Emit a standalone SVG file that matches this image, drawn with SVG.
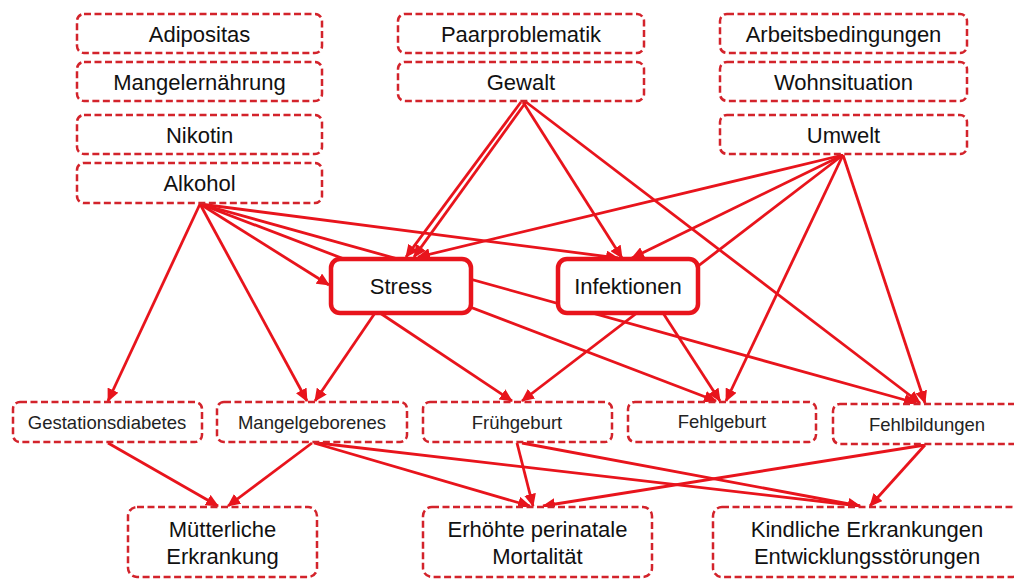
<svg xmlns="http://www.w3.org/2000/svg" width="1014" height="579" viewBox="0 0 1014 579">
<style>
.bx{fill:#fff;stroke:#d3232b;stroke-width:2.5;stroke-dasharray:7 3.5}
.hb{fill:#fff;stroke:#e8141c;stroke-width:4.5}
.t{font-family:"Liberation Sans",Arial,sans-serif;font-size:22px;fill:#111;text-anchor:middle}
.s{font-family:"Liberation Sans",Arial,sans-serif;font-size:18.5px;fill:#222;text-anchor:middle}
.c line{stroke:#e8141c;stroke-width:2.8;fill:none}
.c line.a{marker-end:url(#ah)}
</style>
<defs>
<marker id="ah" viewBox="0 0 13 12" refX="12" refY="6" markerWidth="13" markerHeight="12" markerUnits="userSpaceOnUse" orient="auto">
<path d="M0,0 L13,6 L0,12 z" fill="#e8141c"/>
</marker>
</defs>
<rect width="1014" height="579" fill="#fff"/>
<g id="connectors" class="c">
<line class="a" x1="200" y1="204" x2="108" y2="401"/>
<line class="a" x1="200" y1="204" x2="307" y2="401"/>
<line class="a" x1="200" y1="204" x2="329" y2="285"/>
<line class="a" x1="200" y1="204" x2="618" y2="258"/>
<line class="a" x1="200" y1="204" x2="716" y2="401"/>
<line class="a" x1="200" y1="204" x2="916" y2="403"/>
<line class="a" x1="521" y1="102" x2="406" y2="257"/>
<line class="a" x1="526" y1="102" x2="414" y2="257"/>
<line class="a" x1="523" y1="102" x2="622" y2="258"/>
<line class="a" x1="526" y1="102" x2="920" y2="403"/>
<line class="a" x1="843" y1="155" x2="418" y2="257"/>
<line class="a" x1="843" y1="155" x2="632" y2="258"/>
<line class="a" x1="843" y1="155" x2="522" y2="401"/>
<line class="a" x1="843" y1="155" x2="726" y2="401"/>
<line class="a" x1="843" y1="155" x2="925" y2="403"/>
<line class="a" x1="375" y1="313" x2="315" y2="401"/>
<line class="a" x1="380" y1="313" x2="512" y2="401"/>
<line class="a" x1="663" y1="313" x2="720" y2="401"/>
<line class="a" x1="108" y1="443" x2="218" y2="506"/>
<line class="a" x1="312" y1="443" x2="228" y2="506"/>
<line class="a" x1="314" y1="443" x2="530" y2="506"/>
<line class="a" x1="318" y1="443" x2="860" y2="506"/>
<line class="a" x1="517" y1="443" x2="533" y2="506"/>
<line class="a" x1="522" y1="443" x2="860" y2="506"/>
<line class="a" x1="925" y1="445" x2="543" y2="506"/>
<line class="a" x1="925" y1="445" x2="870" y2="506"/>
</g>
<g id="n-adipositas"><rect class="bx" x="77" y="14" width="245" height="39" rx="7"/><text class="t" x="199.5" y="41.5">Adipositas</text></g>
<g id="n-mangelernaehrung"><rect class="bx" x="77" y="62" width="245" height="39" rx="7"/><text class="t" x="199.5" y="89.5">Mangelernährung</text></g>
<g id="n-nikotin"><rect class="bx" x="77" y="115" width="245" height="39" rx="7"/><text class="t" x="199.5" y="142.5">Nikotin</text></g>
<g id="n-alkohol"><rect class="bx" x="77" y="163" width="245" height="40" rx="7"/><text class="t" x="199.5" y="191">Alkohol</text></g>
<g id="n-paarproblematik"><rect class="bx" x="398" y="14" width="246" height="39" rx="7"/><text class="t" x="521" y="41.5">Paarproblematik</text></g>
<g id="n-gewalt"><rect class="bx" x="398" y="62" width="246" height="39" rx="7"/><text class="t" x="521" y="89.5">Gewalt</text></g>
<g id="n-arbeitsbedingungen"><rect class="bx" x="720" y="14" width="247" height="39" rx="7"/><text class="t" x="843.5" y="41.5">Arbeitsbedingungen</text></g>
<g id="n-wohnsituation"><rect class="bx" x="720" y="62" width="247" height="39" rx="7"/><text class="t" x="843.5" y="89.5">Wohnsituation</text></g>
<g id="n-umwelt"><rect class="bx" x="720" y="115" width="247" height="39" rx="7"/><text class="t" x="843.5" y="142.5">Umwelt</text></g>
<g id="n-stress"><rect class="hb" x="331" y="259" width="140" height="54" rx="9"/><text class="t" x="401" y="294">Stress</text></g>
<g id="n-infektionen"><rect class="hb" x="558" y="259" width="140" height="54" rx="9"/><text class="t" x="628" y="294">Infektionen</text></g>
<g id="n-gestationsdiabetes"><rect class="bx" x="13" y="402" width="189" height="40" rx="7"/><text class="s" x="107" y="429">Gestationsdiabetes</text></g>
<g id="n-mangelgeborenes"><rect class="bx" x="217" y="402" width="190" height="40" rx="7"/><text class="s" x="312" y="429">Mangelgeborenes</text></g>
<g id="n-fruehgeburt"><rect class="bx" x="423" y="402" width="189" height="40" rx="7"/><text class="s" x="517" y="429">Frühgeburt</text></g>
<g id="n-fehlgeburt"><rect class="bx" x="628" y="402" width="188" height="40" rx="7"/><text class="s" x="722" y="428">Fehlgeburt</text></g>
<g id="n-fehlbildungen"><rect class="bx" x="833" y="404" width="188" height="40" rx="7"/><text class="s" x="927" y="431">Fehlbildungen</text></g>
<g id="n-muetterliche"><rect class="bx" x="128" y="507" width="189" height="70" rx="9"/><text class="t" x="222.5" y="537">Mütterliche</text><text class="t" x="222.5" y="564">Erkrankung</text></g>
<g id="n-mortalitaet"><rect class="bx" x="423" y="507" width="229" height="70" rx="9"/><text class="t" x="537.5" y="537">Erhöhte perinatale</text><text class="t" x="537.5" y="564">Mortalität</text></g>
<g id="n-kindliche"><rect class="bx" x="713" y="507" width="308" height="70" rx="9"/><text class="t" x="867" y="537">Kindliche Erkrankungen</text><text class="t" x="867" y="564">Entwicklungsstörungen</text></g>
</svg>
